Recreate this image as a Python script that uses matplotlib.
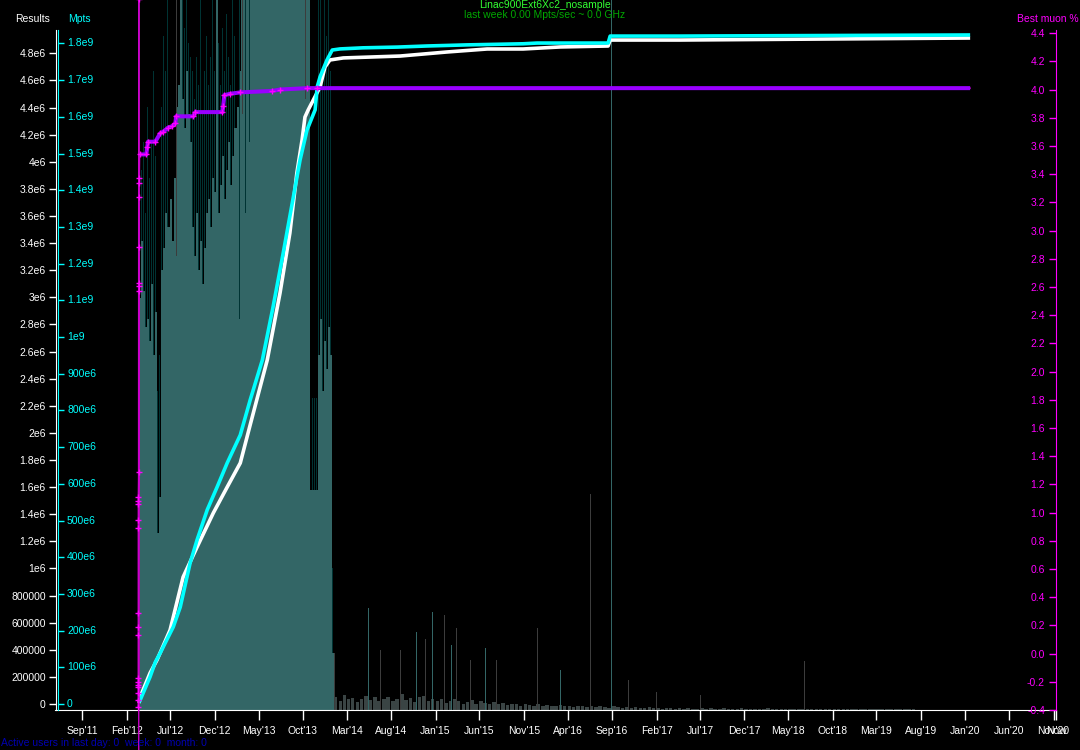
import pandas as pd
import matplotlib
matplotlib.use("Agg")
import matplotlib.pyplot as plt
import matplotlib.transforms as mtransforms

plt.rcParams['font.family'] = ['Liberation Sans', 'DejaVu Sans']
FS = 7.5

# weekly throughput bars (relative units, 100 = top of plot)
week_start = "2012-03-15"
bar_light = [58, 66, 59, 54, 55, 52, 60, 50, 56, 25,
             30, 62, 65, 70, 68, 72, 66, 75, 85, 88,
             100, 86, 82, 90, 84, 80, 68, 64, 70, 62,
             66, 60, 65, 70, 72, 68, 75, 73, 100, 70,
             74, 78, 72, 76, 80, 74, 78, 82, 85, 90,
             100, 100, 100, 100, 100, 100, 100, 100, 100, 100,
             100, 100, 100, 100, 100, 100, 100, 100, 100, 100,
             100, 100, 100, 100, 100, 100, 100, 100, 100, 100,
             100, 100, 100, 100, 31, 31, 31, 31,
             50, 55, 45, 52, 48, 54, 50, 8]
bar_dark = [100, 76, 80, 70, 85, 75, 80, 90, 78, 45,
            50, 85, 95, 90, 100, 92, 88, 95, 98, 100,
            100, 100, 96, 100, 94, 92, 90, 86, 92, 88,
            100, 84, 90, 95, 88, 92, 100, 90, 100, 94,
            88, 96, 90, 98, 92, 88, 100, 95, 100, 100,
            100, 100, 100, 100, 100, 100, 100, 100, 100, 100,
            100, 100, 100, 100, 100, 100, 100, 100, 100, 100,
            100, 100, 100, 100, 100, 100, 100, 100, 100, 100,
            100, 100, 100, 100, 44, 44, 44, 44,
            100, 100, 90, 100, 95, 100, 90, 20]

# loose streaks on top of the bars: date, bottom, top, colour
streak_dates = ["2012-03-14", "2012-07-20", "2013-02-24", "2013-03-06", "2013-03-16", "2013-03-28", "2013-10-08"]
streak_bottom = [0, 64, 55, 84, 70, 80, 86]
streak_top = [100, 100, 100, 100, 100, 100, 100]
streak_color = ["#3c3c3c", "#3c3c3c", "#003333", "#3c3c3c", "#003333", "#003333", "#3c3c3c"]

# half-monthly low tail after the main run
tail_start = "2014-01-15"
tail_height = [1.9, 1.2, 2.1, 1.5, 1.7, 1.1, 1.6, 2.0, 1.4, 1.8, 1.2, 1.5,
               1.9, 1.3, 1.6, 2.2, 1.4, 1.7, 1.1, 1.9, 2.0, 1.3, 1.6, 1.2,
               1.5, 1.0, 1.3, 1.6, 1.2, 0.9, 1.1, 1.4, 0.9, 1.2, 1.0, 0.8,
               1.1, 0.8, 1.0, 0.7, 0.9, 0.8, 0.6, 0.9, 0.7, 0.6, 0.8, 0.5,
               0.7, 0.6, 0.5, 0.7, 0.5, 0.6, 0.4, 0.5, 0.6, 0.4, 0.5, 0.4,
               0.5, 0.4, 0.3, 0.5, 0.4, 0.3, 0.4, 0.3, 0.4, 0.3, 0.3, 0.4,
               0.3, 0.3, 0.2, 0.3, 0.3, 0.2, 0.3, 0.2, 0.3, 0.2, 0.2, 0.3,
               0.2, 0.3, 0.2, 0.2, 0.3, 0.2, 0.2, 0.2, 0.3, 0.2, 0.2, 0.2,
               0.2, 0.2, 0.3, 0.2, 0.2, 0.2, 0.2, 0.2, 0.2, 0.2, 0.2, 0.2,
               0.2, 0.2, 0.2, 0.2, 0.2, 0.2, 0.2, 0.2, 0.2, 0.2, 0.2, 0.2,
               0.2, 0.2, 0.2, 0.2, 0.2, 0.2, 0.2, 0.2, 0.2, 0.2, 0.2, 0.2]

spike_dates = ["2014-01-16", "2014-05-13", "2014-06-24", "2014-09-01", "2014-10-26", "2014-11-26",
               "2014-12-21", "2015-01-31", "2015-02-24", "2015-03-13", "2015-05-01", "2015-06-22",
               "2015-07-27", "2015-12-17", "2016-03-06", "2016-06-17", "2016-08-27", "2016-10-26",
               "2017-01-30", "2017-07-01", "2018-06-24"]
spike_height = [8, 14.4, 8.5, 8.5, 11, 10, 13.8, 13.4, 9.2, 11.5, 7, 8.7,
                7, 11.5, 5.6, 30.4, 100, 4.2, 2.5, 2.1, 6.9]
spike_color = ["#3c3c3c", "#336666", "#3c3c3c", "#3c3c3c", "#336666", "#3c3c3c",
               "#336666", "#3c3c3c", "#336666", "#3c3c3c", "#3c3c3c", "#336666",
               "#3c3c3c", "#3c3c3c", "#336666", "#3c3c3c", "#336666", "#3c3c3c",
               "#3c3c3c", "#3c3c3c", "#3c3c3c"]

# cumulative Mpts
mpts_dates = ["2012-03-15", "2012-03-19", "2012-04-22", "2012-05-10", "2012-05-27", "2012-06-13",
              "2012-07-11", "2012-08-04", "2012-09-07", "2012-10-01", "2012-11-05", "2012-12-09",
              "2013-01-13", "2013-02-27", "2013-04-02", "2013-05-14", "2013-06-20", "2013-07-25",
              "2013-08-27", "2013-09-21", "2013-10-15", "2013-11-12", "2013-11-19", "2013-11-29",
              "2013-12-23", "2014-01-10", "2014-02-06", "2014-04-26", "2014-08-22", "2014-12-03",
              "2015-04-20", "2015-10-30", "2015-12-17", "2016-08-18", "2016-08-25", "2017-04-23",
              "2020-01-18"]
mpts_values = [0.005e9, 0.011e9, 0.074e9, 0.114e9, 0.139e9, 0.166e9,
               0.210e9, 0.264e9, 0.384e9, 0.447e9, 0.529e9, 0.591e9,
               0.657e9, 0.733e9, 0.828e9, 0.937e9, 1.082e9, 1.229e9,
               1.373e9, 1.482e9, 1.564e9, 1.619e9, 1.681e9, 1.709e9,
               1.755e9, 1.782e9, 1.785e9, 1.788e9, 1.790e9, 1.793e9,
               1.796e9, 1.799e9, 1.801e9, 1.801e9, 1.820e9, 1.820e9,
               1.823e9]

# cumulative results
res_dates = ["2012-03-15", "2012-03-19", "2012-04-22", "2012-05-16", "2012-06-30", "2012-08-14",
             "2012-10-01", "2012-11-26", "2013-01-13", "2013-02-27", "2013-04-02", "2013-05-31",
             "2013-07-14", "2013-08-17", "2013-09-10", "2013-09-28", "2013-10-08", "2013-10-19",
             "2013-11-29", "2013-12-16", "2014-01-02", "2014-02-17", "2014-09-01", "2015-02-10",
             "2015-06-28", "2015-10-30", "2016-03-06", "2016-08-18", "2016-08-25", "2017-04-23",
             "2020-01-18"]
res_values = [7e3, 52e3, 229e3, 325e3, 546e3, 937e3,
              1.158e6, 1.409e6, 1.601e6, 1.778e6, 2.058e6, 2.538e6,
              3.032e6, 3.475e6, 3.917e6, 4.161e6, 4.330e6, 4.382e6,
              4.552e6, 4.699e6, 4.751e6, 4.766e6, 4.780e6, 4.810e6,
              4.832e6, 4.832e6, 4.847e6, 4.854e6, 4.898e6, 4.898e6,
              4.913e6]

# best muon %
muon_dates = ["2012-03-14", "2012-03-14", "2012-03-13", "2012-03-13", "2012-03-13", "2012-03-13",
              "2012-03-13", "2012-03-13", "2012-03-13", "2012-03-13", "2012-03-13", "2012-03-13",
              "2012-03-13", "2012-03-13", "2012-03-13", "2012-03-13", "2012-03-13", "2012-03-14",
              "2012-03-14", "2012-03-14", "2012-03-14", "2012-03-15", "2012-03-15", "2012-03-16",
              "2012-03-16", "2012-03-17",
              "2012-04-09", "2012-04-12", "2012-04-15", "2012-05-10", "2012-05-27", "2012-06-06",
              "2012-06-23", "2012-07-07", "2012-07-18", "2012-07-21", "2012-09-18", "2012-09-25",
              "2012-12-27", "2012-12-30", "2013-01-03", "2013-01-23", "2013-02-27", "2013-06-17",
              "2013-07-14", "2013-10-15", "2013-11-19", "2020-01-18"]
muon_values = [-0.90, 4.64, -0.38, -0.33, -0.28, -0.24, -0.22, -0.20, -0.17, 0.13, 0.19, 0.29,
               0.89, 0.95, 1.06, 1.08, 1.11, 1.29, 2.57, 2.61, 2.63, 2.88, 3.24, 3.34, 3.37, 3.54,
               3.54, 3.59, 3.63, 3.63, 3.69, 3.70, 3.73, 3.74, 3.76, 3.81, 3.81, 3.84,
               3.84, 3.88, 3.96, 3.97, 3.98, 3.99, 4.00, 4.01, 4.01, 4.01]

x_tick_dates = ["2011-09-01", "2012-02-01", "2012-07-01", "2012-12-01", "2013-05-01", "2013-10-01",
                "2014-03-01", "2014-08-01", "2015-01-01", "2015-06-01", "2015-11-01", "2016-04-01",
                "2016-09-01", "2017-02-01", "2017-07-01", "2017-12-01", "2018-05-01", "2018-10-01",
                "2019-03-01", "2019-08-01", "2020-01-01", "2020-06-01", "2020-11-01", "2020-11-09"]
x_tick_labels = ["Sep'11", "Feb'12", "Jul'12", "Dec'12", "May'13", "Oct'13", "Mar'14", "Aug'14",
                 "Jan'15", "Jun'15", "Nov'15", "Apr'16", "Sep'16", "Feb'17", "Jul'17", "Dec'17",
                 "May'18", "Oct'18", "Mar'19", "Aug'19", "Jan'20", "Jun'20", "Nov'20", "Now"]

res_ticks = [i * 200000 for i in range(25)]
res_labels = ["0", "200000", "400000", "600000", "800000", "1e6", "1.2e6", "1.4e6", "1.6e6",
              "1.8e6", "2e6", "2.2e6", "2.4e6", "2.6e6", "2.8e6", "3e6", "3.2e6", "3.4e6",
              "3.6e6", "3.8e6", "4e6", "4.2e6", "4.4e6", "4.6e6", "4.8e6"]
mpts_ticks = [i * 1e8 for i in range(19)]
mpts_labels = ["0", "100e6", "200e6", "300e6", "400e6", "500e6", "600e6", "700e6", "800e6",
               "900e6", "1e9", "1.1e9", "1.2e9", "1.3e9", "1.4e9", "1.5e9", "1.6e9", "1.7e9", "1.8e9"]
muon_ticks = [round(-0.4 + 0.2 * i, 1) for i in range(25)]
muon_labels = ["%.1f" % t for t in muon_ticks]

# colours
TEAL = "#336666"
DARK = "#003333"
CYAN = "#00ffff"
MAG = "#ff00ff"
PURPLE = "#9900ff"

fig = plt.figure(figsize=(10.8, 7.5), dpi=100, facecolor="black")
ax = fig.add_axes([55.5 / 1080, 40 / 750, (1056 - 55.5) / 1080, 710 / 750])
ax.set_facecolor("black")

weeks = pd.date_range(week_start, periods=len(bar_light), freq="7D")
ax.bar(weeks, bar_dark, width=3, align="edge", color=DARK, linewidth=0)
ax.bar(weeks, bar_light, width=7, align="edge", color=TEAL, linewidth=0)
for d, b0, b1, c in zip(streak_dates, streak_bottom, streak_top, streak_color):
    ax.bar(pd.Timestamp(d), b1 - b0, bottom=b0, width=3, align="edge", color=c, linewidth=0)
halfmonths = pd.date_range(tail_start, periods=len(tail_height), freq="SMS")
ax.bar(halfmonths, tail_height, width=12, align="edge", color="#3a4444", linewidth=0)
ax.bar(pd.to_datetime(spike_dates), spike_height, width=3.5, align="edge", color=spike_color, linewidth=0)

ax.set_ylim(0, 100)
ax.set_yticks([])
ax.set_xlim(pd.Timestamp("2011-06-01"), pd.Timestamp("2020-11-09"))
ax.set_xticks(pd.to_datetime(x_tick_dates))
ax.set_xticklabels(x_tick_labels, fontsize=FS, color="white")
ax.tick_params(axis="x", direction="out", length=7.2, width=1, color="white", pad=4)
for s in ["left", "right", "top"]:
    ax.spines[s].set_visible(False)
ax.spines["bottom"].set_color("white")

# Results axis (left, white)
ax_res = ax.twinx()
ax_res.yaxis.tick_left()
ax_res.plot(pd.to_datetime(res_dates), res_values, color="white", lw=2.6, solid_capstyle="butt")
ax_res.set_ylim(-44262, 5.1934e6)
ax_res.set_yticks(res_ticks)
ax_res.set_yticklabels(res_labels, fontsize=FS, color="white")
ax_res.tick_params(axis="y", direction="out", length=5, width=1, color="white", pad=2)
for s in ["right", "top", "bottom"]:
    ax_res.spines[s].set_visible(False)
ax_res.spines["left"].set_visible(True)
ax_res.spines["left"].set_color("white")
ax_res.spines["left"].set_bounds(-44262, 4.972e6)

# Mpts axis (left, cyan, labels written inside the plot)
ax_mpts = ax.twinx()
ax_mpts.yaxis.tick_left()
ax_mpts.plot(pd.to_datetime(mpts_dates), mpts_values, color=CYAN, lw=2.6, solid_capstyle="butt")
ax_mpts.set_ylim(-1.635e7, 1.9183e9)
ax_mpts.set_yticks(mpts_ticks)
ax_mpts.set_yticklabels([])
ax_mpts.tick_params(axis="y", direction="in", length=4.3, width=1, color=CYAN)
lab_tr = mtransforms.blended_transform_factory(ax_mpts.transAxes, ax_mpts.transData)
for t, lab in zip(mpts_ticks, mpts_labels):
    ax_mpts.text(11.5 / 1000.5, t, lab, transform=lab_tr, color=CYAN, fontsize=FS,
                 ha="left", va="center")
for s in ["right", "top", "bottom"]:
    ax_mpts.spines[s].set_visible(False)
ax_mpts.spines["left"].set_visible(True)
ax_mpts.spines["left"].set_color(CYAN)
ax_mpts.spines["left"].set_position(("outward", -1.5))
ax_mpts.spines["left"].set_bounds(-1.635e7, 1.8365e9)

# Best muon axis (right, magenta, labels inside)
ax_mu = ax.twinx()
mu_d = pd.to_datetime(muon_dates)
ax_mu.plot(mu_d, muon_values, color="#cc00cc", lw=1, clip_on=False)
ax_mu.plot(mu_d[25:], muon_values[25:], color=PURPLE, lw=2.9, solid_capstyle="butt")
ax_mu.plot(mu_d[:-1], muon_values[:-1], linestyle="none", marker="+", ms=4, mew=1, color=MAG)
ax_mu.set_ylim(-0.397, 4.635)
ax_mu.set_yticks(muon_ticks)
ax_mu.set_yticklabels(muon_labels, fontsize=FS, color=MAG, ha="right")
ax_mu.tick_params(axis="y", direction="in", length=5, width=1, color=MAG, pad=-7.9)
for s in ["left", "top", "bottom"]:
    ax_mu.spines[s].set_visible(False)
ax_mu.spines["right"].set_color(MAG)
ax_mu.spines["right"].set_bounds(-0.397, 4.4224)

fig.text(33 / 1080, 1 - 19 / 750, "Results", color="white", fontsize=FS, ha="center", va="center")
fig.text(79 / 1080, 1 - 19 / 750, "Mpts", color=CYAN, fontsize=FS, ha="center", va="center")
fig.text(1048 / 1080, 1 - 19 / 750, "Best muon %", color=MAG, fontsize=FS, ha="center", va="center")
fig.text(545 / 1080, 1 - 5 / 750, "Linac900Ext6Xc2_nosample", color="#33ff33", fontsize=FS, ha="center", va="center")
fig.text(545 / 1080, 1 - 15 / 750, "last week 0.00 Mpts/sec ~ 0.0 GHz", color="#00a800", fontsize=FS, ha="center", va="center")
fig.text(1 / 1080, 1 - 743 / 750, "Active users in last day: 0  week: 0  month: 0", color="#0000b0",
         fontsize=FS, ha="left", va="center")

fig.savefig("out.png", dpi=100, facecolor="black")
